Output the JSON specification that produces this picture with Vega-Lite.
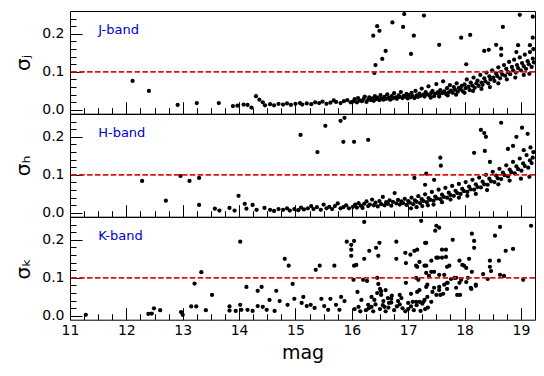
{
  "$schema": "https://vega.github.io/schema/vega-lite/v6.json",
  "padding": {"left": 13, "top": 10, "right": 9, "bottom": 5},
  "background": "white",
  "spacing": 0,
  "bounds": "flush",
  "config": {
    "font": "DejaVu Sans",
    "view": {"stroke": "black", "strokeWidth": 1},
    "axis": {"grid": false, "domain": false, "zindex": 1, "ticks": true, "tickColor": "black", "tickWidth": 1, "tickOpacity": 1, "labelColor": "black", "labelFontSize": 14, "labelFont": "DejaVu Sans", "titleFont": "DejaVu Sans", "titleFontWeight": "normal", "titleColor": "black", "labelOverlap": false, "labelFlush": false},
    "axisX": {"titleFontSize": 19},
    "axisY": {"titleFontSize": 20}
  },
  "datasets": {
    "J": [
      {"m":12.11,"s":0.076},{"m":12.40,"s":0.050},{"m":12.91,"s":0.013},{"m":13.25,"s":0.018},{"m":13.64,"s":0.018},{"m":13.89,"s":0.010},{"m":13.97,"s":0.011},{"m":14.08,"s":0.014},{"m":14.15,"s":0.013},{"m":14.22,"s":0.006},{"m":14.30,"s":0.036},{"m":14.36,"s":0.027},{"m":14.42,"s":0.020},{"m":14.46,"s":0.012},{"m":14.55,"s":0.015},{"m":14.62,"s":0.012},{"m":14.70,"s":0.016},{"m":14.78,"s":0.014},{"m":14.85,"s":0.017},{"m":14.92,"s":0.013},{"m":15.00,"s":0.016},{"m":15.08,"s":0.018},{"m":15.12,"s":0.014},{"m":15.20,"s":0.017},{"m":15.28,"s":0.015},{"m":15.35,"s":0.020},{"m":15.42,"s":0.018},{"m":15.48,"s":0.022},{"m":15.55,"s":0.016},{"m":15.62,"s":0.019},{"m":15.68,"s":0.025},{"m":15.72,"s":0.021},{"m":15.80,"s":0.018},{"m":15.86,"s":0.023},{"m":15.92,"s":0.026},{"m":15.98,"s":0.020},
      {"m":16.02,"s":0.022},{"m":16.05,"s":0.028},{"m":16.09,"s":0.020},{"m":16.11,"s":0.031},{"m":16.14,"s":0.025},{"m":16.18,"s":0.023},{"m":16.21,"s":0.029},{"m":16.23,"s":0.035},{"m":16.26,"s":0.021},{"m":16.29,"s":0.027},{"m":16.31,"s":0.033},{"m":16.34,"s":0.026},{"m":16.37,"s":0.030},{"m":16.39,"s":0.024},{"m":16.41,"s":0.036},{"m":16.44,"s":0.028},{"m":16.46,"s":0.032},{"m":16.49,"s":0.026},{"m":16.51,"s":0.039},{"m":16.53,"s":0.030},{"m":16.56,"s":0.027},{"m":16.58,"s":0.034},{"m":16.61,"s":0.029},{"m":16.63,"s":0.041},{"m":16.66,"s":0.032},{"m":16.68,"s":0.027},{"m":16.71,"s":0.036},{"m":16.73,"s":0.030},{"m":16.75,"s":0.044},{"m":16.78,"s":0.033},{"m":16.80,"s":0.029},{"m":16.83,"s":0.038},{"m":16.85,"s":0.034},{"m":16.87,"s":0.047},{"m":16.90,"s":0.031},{"m":16.92,"s":0.037},{"m":16.94,"s":0.035},{"m":16.97,"s":0.042},{"m":16.99,"s":0.030},{"m":17.01,"s":0.039},{"m":17.04,"s":0.033},{"m":17.06,"s":0.045},{"m":17.08,"s":0.036},{"m":17.11,"s":0.031},{"m":17.13,"s":0.050},{"m":17.15,"s":0.038},{"m":17.17,"s":0.034},{"m":17.20,"s":0.043},{"m":17.22,"s":0.037},{"m":17.24,"s":0.056},{"m":17.27,"s":0.040},{"m":17.29,"s":0.035},{"m":17.31,"s":0.047},{"m":17.34,"s":0.041},{"m":17.36,"s":0.062},{"m":17.38,"s":0.038},{"m":17.41,"s":0.045},{"m":17.43,"s":0.050},{"m":17.46,"s":0.036},{"m":17.48,"s":0.043},{"m":17.50,"s":0.068},{"m":17.53,"s":0.047},{"m":17.55,"s":0.040},{"m":17.57,"s":0.052},{"m":17.60,"s":0.044},{"m":17.62,"s":0.075},{"m":17.64,"s":0.049},{"m":17.67,"s":0.042},{"m":17.69,"s":0.057},{"m":17.72,"s":0.046},{"m":17.74,"s":0.065},{"m":17.76,"s":0.051},{"m":17.79,"s":0.045},{"m":17.81,"s":0.060},{"m":17.83,"s":0.053},{"m":17.86,"s":0.070},{"m":17.88,"s":0.048},{"m":17.90,"s":0.058},{"m":17.93,"s":0.054},{"m":17.95,"s":0.063},{"m":17.97,"s":0.049},{"m":18.00,"s":0.067},{"m":18.02,"s":0.057},{"m":18.04,"s":0.080},{"m":18.07,"s":0.061},{"m":18.09,"s":0.052},{"m":18.11,"s":0.072},{"m":18.14,"s":0.064},{"m":18.16,"s":0.085},{"m":18.18,"s":0.058},{"m":18.21,"s":0.070},{"m":18.23,"s":0.077},{"m":18.25,"s":0.063},{"m":18.28,"s":0.092},{"m":18.30,"s":0.072},{"m":18.32,"s":0.066},{"m":18.35,"s":0.083},{"m":18.37,"s":0.075},{"m":18.39,"s":0.098},{"m":18.42,"s":0.070},{"m":18.44,"s":0.088},{"m":18.46,"s":0.080},{"m":18.49,"s":0.104},{"m":18.51,"s":0.085},{"m":18.53,"s":0.076},{"m":18.56,"s":0.096},{"m":18.58,"s":0.089},{"m":18.60,"s":0.112},{"m":18.63,"s":0.083},{"m":18.65,"s":0.100},{"m":18.67,"s":0.093},{"m":18.70,"s":0.118},{"m":18.72,"s":0.090},{"m":18.74,"s":0.108},{"m":18.77,"s":0.099},{"m":18.79,"s":0.126},{"m":18.81,"s":0.094},{"m":18.84,"s":0.113},{"m":18.86,"s":0.104},{"m":18.88,"s":0.132},{"m":18.91,"s":0.098},{"m":18.93,"s":0.118},{"m":18.95,"s":0.110},{"m":18.98,"s":0.138},{"m":19.00,"s":0.104},{"m":19.02,"s":0.123},{"m":19.05,"s":0.115},{"m":19.07,"s":0.145},{"m":19.09,"s":0.108},{"m":19.12,"s":0.128},{"m":19.14,"s":0.120},{"m":19.16,"s":0.152},{"m":19.19,"s":0.113},{"m":19.21,"s":0.135},{"m":19.23,"s":0.125},{"m":19.22,"s":0.160},
      {"m":17.40,"s":0.032},{"m":17.55,"s":0.035},{"m":17.70,"s":0.038},{"m":17.85,"s":0.040},{"m":18.00,"s":0.045},{"m":18.15,"s":0.050},{"m":18.30,"s":0.055},{"m":18.45,"s":0.060},{"m":18.60,"s":0.070},{"m":18.75,"s":0.080},{"m":18.90,"s":0.085},{"m":19.05,"s":0.092},{"m":19.15,"s":0.095},
      {"m":16.38,"s":0.195},{"m":16.45,"s":0.220},{"m":16.49,"s":0.208},{"m":16.72,"s":0.230},{"m":16.91,"s":0.218},{"m":16.93,"s":0.252},{"m":17.28,"s":0.248},{"m":17.10,"s":0.195},{"m":16.60,"s":0.155},{"m":16.54,"s":0.134},{"m":16.42,"s":0.118},{"m":16.40,"s":0.097},{"m":17.05,"s":0.147},{"m":17.55,"s":0.171},{"m":17.94,"s":0.190},{"m":18.10,"s":0.197},{"m":18.03,"s":0.120},{"m":18.35,"s":0.155},{"m":18.43,"s":0.158},{"m":18.68,"s":0.218},{"m":18.56,"s":0.171},{"m":18.65,"s":0.161},{"m":18.65,"s":0.144},{"m":18.98,"s":0.250},{"m":18.95,"s":0.170},{"m":18.92,"s":0.152},{"m":19.16,"s":0.170},{"m":19.21,"s":0.190},{"m":19.21,"s":0.245}
    ],
    "H": [
      {"m":12.28,"s":0.084},{"m":12.70,"s":0.032},{"m":12.96,"s":0.097},{"m":13.12,"s":0.084},{"m":13.29,"s":0.092},{"m":13.29,"s":0.021},{"m":13.57,"s":0.011},{"m":13.65,"s":0.006},{"m":13.83,"s":0.013},{"m":13.92,"s":0.006},{"m":13.99,"s":0.045},{"m":14.10,"s":0.024},{"m":14.13,"s":0.011},{"m":14.24,"s":0.021},{"m":14.31,"s":0.008},{"m":14.45,"s":0.013},{"m":14.55,"s":0.008},{"m":14.62,"s":0.005},{"m":14.70,"s":0.010},{"m":14.78,"s":0.008},{"m":14.85,"s":0.012},{"m":14.90,"s":0.006},{"m":14.98,"s":0.010},{"m":15.05,"s":0.007},{"m":15.10,"s":0.014},{"m":15.15,"s":0.009},{"m":15.22,"s":0.012},{"m":15.28,"s":0.018},{"m":15.32,"s":0.010},{"m":15.38,"s":0.015},{"m":15.45,"s":0.008},{"m":15.50,"s":0.022},{"m":15.55,"s":0.012},{"m":15.60,"s":0.016},{"m":15.65,"s":0.010},{"m":15.70,"s":0.018},{"m":15.75,"s":0.025},{"m":15.80,"s":0.012},{"m":15.85,"s":0.015},{"m":15.90,"s":0.020},{"m":15.95,"s":0.012},
      {"m":16.02,"s":0.016},{"m":16.06,"s":0.022},{"m":16.09,"s":0.014},{"m":16.12,"s":0.026},{"m":16.16,"s":0.019},{"m":16.19,"s":0.013},{"m":16.22,"s":0.024},{"m":16.26,"s":0.030},{"m":16.29,"s":0.018},{"m":16.32,"s":0.022},{"m":16.36,"s":0.035},{"m":16.39,"s":0.020},{"m":16.42,"s":0.027},{"m":16.46,"s":0.017},{"m":16.49,"s":0.031},{"m":16.52,"s":0.023},{"m":16.55,"s":0.042},{"m":16.58,"s":0.020},{"m":16.61,"s":0.028},{"m":16.64,"s":0.024},{"m":16.67,"s":0.033},{"m":16.70,"s":0.019},{"m":16.73,"s":0.029},{"m":16.76,"s":0.052},{"m":16.79,"s":0.025},{"m":16.82,"s":0.034},{"m":16.85,"s":0.022},{"m":16.88,"s":0.030},{"m":16.91,"s":0.026},{"m":16.94,"s":0.037},{"m":16.97,"s":0.021},{"m":17.00,"s":0.031},{"m":17.03,"s":0.027},{"m":17.06,"s":0.040},{"m":17.09,"s":0.023},{"m":17.12,"s":0.033},{"m":17.15,"s":0.029},{"m":17.18,"s":0.044},{"m":17.21,"s":0.026},{"m":17.24,"s":0.036},{"m":17.27,"s":0.031},{"m":17.30,"s":0.049},{"m":17.33,"s":0.028},{"m":17.36,"s":0.039},{"m":17.39,"s":0.034},{"m":17.42,"s":0.055},{"m":17.45,"s":0.032},{"m":17.48,"s":0.043},{"m":17.51,"s":0.038},{"m":17.54,"s":0.061},{"m":17.57,"s":0.036},{"m":17.60,"s":0.048},{"m":17.63,"s":0.042},{"m":17.66,"s":0.066},{"m":17.69,"s":0.040},{"m":17.72,"s":0.053},{"m":17.75,"s":0.047},{"m":17.78,"s":0.071},{"m":17.81,"s":0.045},{"m":17.84,"s":0.058},{"m":17.87,"s":0.052},{"m":17.90,"s":0.076},{"m":17.93,"s":0.050},{"m":17.96,"s":0.063},{"m":17.99,"s":0.057},{"m":18.02,"s":0.081},{"m":18.05,"s":0.055},{"m":18.08,"s":0.069},{"m":18.11,"s":0.062},{"m":18.14,"s":0.087},{"m":18.17,"s":0.061},{"m":18.20,"s":0.075},{"m":18.23,"s":0.068},{"m":18.26,"s":0.093},{"m":18.29,"s":0.067},{"m":18.32,"s":0.082},{"m":18.35,"s":0.075},{"m":18.38,"s":0.100},{"m":18.41,"s":0.074},{"m":18.44,"s":0.090},{"m":18.47,"s":0.083},{"m":18.50,"s":0.108},{"m":18.53,"s":0.081},{"m":18.56,"s":0.098},{"m":18.59,"s":0.091},{"m":18.62,"s":0.116},{"m":18.65,"s":0.089},{"m":18.68,"s":0.106},{"m":18.71,"s":0.099},{"m":18.74,"s":0.125},{"m":18.77,"s":0.096},{"m":18.80,"s":0.114},{"m":18.83,"s":0.107},{"m":18.86,"s":0.134},{"m":18.89,"s":0.104},{"m":18.92,"s":0.122},{"m":18.95,"s":0.115},{"m":18.98,"s":0.143},{"m":19.01,"s":0.111},{"m":19.04,"s":0.130},{"m":19.07,"s":0.123},{"m":19.10,"s":0.152},{"m":19.13,"s":0.119},{"m":19.16,"s":0.138},{"m":19.19,"s":0.131},{"m":19.22,"s":0.160},{"m":19.21,"s":0.145},{"m":19.17,"s":0.172},{"m":19.05,"s":0.165},
      {"m":15.09,"s":0.205},{"m":15.39,"s":0.160},{"m":15.53,"s":0.229},{"m":15.80,"s":0.242},{"m":15.87,"s":0.250},{"m":15.85,"s":0.187},{"m":16.04,"s":0.187},{"m":16.29,"s":0.192},{"m":17.57,"s":0.145},{"m":17.58,"s":0.124},{"m":17.11,"s":0.092},{"m":17.32,"s":0.103},{"m":17.46,"s":0.087},{"m":17.30,"s":0.074},{"m":18.17,"s":0.158},{"m":18.29,"s":0.218},{"m":18.35,"s":0.210},{"m":18.38,"s":0.200},{"m":18.36,"s":0.163},{"m":18.45,"s":0.134},{"m":18.65,"s":0.237},{"m":19.02,"s":0.224},{"m":18.92,"s":0.200},{"m":19.12,"s":0.208},{"m":18.77,"s":0.168},{"m":18.86,"s":0.176},
      {"m":17.05,"s":0.012},{"m":17.15,"s":0.015},{"m":17.25,"s":0.018},{"m":17.35,"s":0.020},{"m":17.45,"s":0.022},{"m":17.60,"s":0.028},{"m":17.75,"s":0.035},{"m":17.90,"s":0.040},{"m":18.05,"s":0.045},{"m":18.20,"s":0.050},{"m":18.40,"s":0.060},{"m":18.60,"s":0.075},{"m":18.80,"s":0.085},{"m":19.00,"s":0.090},{"m":19.15,"s":0.095}
    ],
    "K": [
      {"m":11.28,"s":0.003},{"m":12.39,"s":0.005},{"m":12.45,"s":0.006},{"m":12.49,"s":0.020},{"m":12.60,"s":0.015},{"m":12.97,"s":0.010},{"m":13.00,"s":0.003},{"m":13.15,"s":0.025},{"m":13.24,"s":0.025},{"m":13.21,"s":0.085},{"m":13.33,"s":0.115},{"m":13.41,"s":0.015},{"m":13.52,"s":0.055},{"m":13.83,"s":0.025},{"m":13.83,"s":0.014},{"m":13.94,"s":0.013},{"m":14.02,"s":0.029},{"m":14.02,"s":0.195},{"m":14.04,"s":0.016},{"m":14.13,"s":0.076},{"m":14.15,"s":0.016},{"m":14.24,"s":0.013},{"m":14.33,"s":0.066},{"m":14.40,"s":0.076},{"m":14.33,"s":0.026},{"m":14.42,"s":0.024},{"m":14.49,"s":0.016},{"m":14.54,"s":0.042},
      {"m":14.66,"s":0.066},{"m":14.81,"s":0.150},{"m":14.88,"s":0.132},{"m":14.95,"s":0.084},{"m":14.86,"s":0.029},{"m":14.98,"s":0.045},{"m":14.72,"s":0.039},{"m":14.63,"s":0.013},{"m":15.11,"s":0.034},{"m":15.14,"s":0.050},{"m":15.20,"s":0.026},{"m":15.27,"s":0.029},{"m":15.34,"s":0.021},{"m":15.36,"s":0.121},{"m":15.43,"s":0.132},{"m":15.46,"s":0.045},{"m":15.51,"s":0.026},{"m":15.58,"s":0.016},{"m":15.62,"s":0.045},{"m":15.69,"s":0.132},{"m":15.72,"s":0.029},{"m":15.78,"s":0.016},{"m":15.81,"s":0.050},{"m":15.87,"s":0.039},{"m":15.91,"s":0.195},{"m":15.99,"s":0.187},{"m":16.04,"s":0.197},{"m":15.99,"s":0.174},{"m":15.99,"s":0.158},{"m":16.03,"s":0.095},{"m":16.04,"s":0.132},{"m":16.08,"s":0.134},{"m":16.10,"s":0.063},{"m":16.12,"s":0.024},{"m":16.17,"s":0.042},{"m":16.22,"s":0.247},{"m":16.22,"s":0.150},{"m":16.20,"s":0.095},{"m":16.27,"s":0.092},{"m":16.31,"s":0.171},{"m":16.29,"s":0.029},{"m":16.35,"s":0.024},{"m":16.40,"s":0.042},{"m":16.43,"s":0.179},{"m":16.47,"s":0.158},{"m":16.45,"s":0.100},{"m":16.49,"s":0.192},{"m":16.47,"s":0.084},{"m":16.50,"s":0.071},{"m":16.52,"s":0.055},{"m":16.56,"s":0.039},{"m":16.58,"s":0.024},{"m":16.64,"s":0.047},{"m":16.66,"s":0.034},{"m":16.71,"s":0.053},{"m":16.79,"s":0.195},{"m":16.79,"s":0.150},{"m":16.82,"s":0.039},{"m":16.88,"s":0.047},{"m":16.95,"s":0.166},{"m":16.96,"s":0.139},{"m":16.96,"s":0.087},{"m":17.00,"s":0.034},{"m":17.04,"s":0.161},{"m":17.05,"s":0.058},{"m":17.08,"s":0.037},{"m":17.11,"s":0.171},{"m":17.14,"s":0.132},{"m":17.16,"s":0.174},{"m":17.18,"s":0.095},{"m":17.20,"s":0.068},{"m":17.23,"s":0.250},{"m":17.27,"s":0.037},{"m":17.29,"s":0.132},{"m":17.30,"s":0.192},{"m":17.32,"s":0.113},{"m":17.34,"s":0.082},{"m":17.37,"s":0.105},{"m":17.41,"s":0.145},{"m":17.46,"s":0.074},{"m":17.48,"s":0.224},{"m":17.50,"s":0.237},{"m":17.53,"s":0.153},{"m":17.55,"s":0.232},{"m":17.57,"s":0.055},{"m":17.60,"s":0.174},{"m":17.64,"s":0.108},{"m":17.67,"s":0.174},{"m":17.67,"s":0.155},{"m":17.70,"s":0.087},{"m":17.73,"s":0.132},{"m":17.79,"s":0.200},{"m":17.82,"s":0.100},{"m":17.85,"s":0.074},{"m":17.91,"s":0.145},{"m":17.92,"s":0.055},{"m":17.94,"s":0.095},{"m":17.99,"s":0.132},{"m":18.03,"s":0.126},{"m":18.06,"s":0.100},{"m":18.08,"s":0.150},{"m":18.11,"s":0.074},{"m":18.13,"s":0.216},{"m":18.17,"s":0.197},{"m":18.17,"s":0.179},{"m":18.20,"s":0.082},{"m":18.33,"s":0.110},{"m":18.41,"s":0.097},{"m":18.45,"s":0.145},{"m":18.45,"s":0.129},{"m":18.47,"s":0.118},{"m":18.54,"s":0.211},{"m":18.61,"s":0.145},{"m":18.63,"s":0.234},{"m":18.63,"s":0.108},{"m":18.70,"s":0.105},{"m":18.73,"s":0.171},{"m":18.86,"s":0.176},{"m":19.04,"s":0.095},{"m":19.18,"s":0.237},
      {"m":17.32,"s":0.192},{"m":18.13,"s":0.116},{"m":18.20,"s":0.079},{"m":18.12,"s":0.071},{"m":17.96,"s":0.134},{"m":18.03,"s":0.089},{"m":17.91,"s":0.087},{"m":17.87,"s":0.055},{"m":17.69,"s":0.087},{"m":17.76,"s":0.097},{"m":17.64,"s":0.082},{"m":17.60,"s":0.153},{"m":17.50,"s":0.153},{"m":17.46,"s":0.116},{"m":17.55,"s":0.108},{"m":17.69,"s":0.129},{"m":17.62,"s":0.058},{"m":17.50,"s":0.055},{"m":17.43,"s":0.063},{"m":17.41,"s":0.037},{"m":17.34,"s":0.050},{"m":17.29,"s":0.042},{"m":17.25,"s":0.032},{"m":17.20,"s":0.037},{"m":17.16,"s":0.063},{"m":17.14,"s":0.037},{"m":17.32,"s":0.076},{"m":17.55,"s":0.076},{"m":17.55,"s":0.068},{"m":17.69,"s":0.071},{"m":17.85,"s":0.100},{"m":17.16,"s":0.129},{"m":17.20,"s":0.142},{"m":17.14,"s":0.100},{"m":17.32,"s":0.132},{"m":17.41,"s":0.116},
      {"m":16.05,"s":0.018},{"m":16.15,"s":0.012},{"m":16.25,"s":0.015},{"m":16.30,"s":0.020},{"m":16.38,"s":0.012},{"m":16.42,"s":0.030},{"m":16.50,"s":0.018},{"m":16.55,"s":0.028},{"m":16.60,"s":0.012},{"m":16.65,"s":0.022},{"m":16.70,"s":0.035},{"m":16.75,"s":0.015},{"m":16.80,"s":0.025},{"m":16.85,"s":0.030},{"m":16.90,"s":0.020},{"m":16.95,"s":0.012},{"m":17.00,"s":0.018},{"m":17.05,"s":0.025},{"m":17.10,"s":0.015},{"m":17.15,"s":0.028},{"m":17.22,"s":0.013},{"m":17.30,"s":0.018},{"m":17.35,"s":0.022},{"m":16.45,"s":0.060},{"m":16.52,"s":0.065},{"m":16.35,"s":0.050},{"m":16.60,"s":0.068},{"m":16.70,"s":0.045},{"m":16.85,"s":0.055}
    ]
  },
  "vconcat": [
    {
      "width": 465, "height": 102.7,
      "resolve": {"axis": {"x": "independent", "y": "independent"}},
      "layer": [
        {"data": {"name": "J"}, "mark": {"type": "circle", "size": 18, "color": "black", "opacity": 1, "clip": true},
         "encoding": {
           "x": {"field": "m", "type": "quantitative", "scale": {"domain": [11, 19.25], "nice": false, "zero": false}, "axis": {"orient": "bottom", "values": [11,12,13,14,15,16,17,18,19], "offset": -12, "tickSize": 12, "labels": false, "title": null, "minExtent": 0, "maxExtent": 0}},
           "y": {"field": "s", "type": "quantitative", "scale": {"domain": [-0.01, 0.26], "nice": false, "zero": false}, "axis": {"orient": "left", "values": [0, 0.1, 0.2], "format": ".1f", "offset": -12, "tickSize": 12, "labelPadding": 6, "title": "σⱼ", "titlePadding": 8}}
         }},
        {"data": {"values": [{"lim": 0.1}]}, "mark": {"type": "rule", "color": "#e01010", "strokeWidth": 1.6, "strokeDash": [5.5, 2.4]},
         "encoding": {"y": {"field": "lim", "type": "quantitative", "axis": null}}},
        {"data": {"values": [{"band": "J-band", "bm": 11.5, "bs": 0.2}]}, "mark": {"type": "text", "color": "#0000cd", "fontSize": 13, "align": "left", "baseline": "alphabetic", "font": "DejaVu Sans"},
         "encoding": {
           "x": {"field": "bm", "type": "quantitative", "axis": {"orient": "bottom", "values": [11.25,11.5,11.75,12.25,12.5,12.75,13.25,13.5,13.75,14.25,14.5,14.75,15.25,15.5,15.75,16.25,16.5,16.75,17.25,17.5,17.75,18.25,18.5,18.75,19.25], "offset": -6, "tickSize": 6, "labels": false, "title": null, "minExtent": 0, "maxExtent": 0}},
           "y": {"field": "bs", "type": "quantitative", "axis": {"orient": "left", "values": [0.02,0.04,0.06,0.08,0.12,0.14,0.16,0.18,0.22,0.24], "offset": -6, "tickSize": 6, "labels": false, "title": null}},
           "text": {"field": "band"}}}
      ]
    },
    {
      "width": 465, "height": 102.7,
      "resolve": {"axis": {"x": "independent", "y": "independent"}},
      "layer": [
        {"data": {"name": "H"}, "mark": {"type": "circle", "size": 18, "color": "black", "opacity": 1, "clip": true},
         "encoding": {
           "x": {"field": "m", "type": "quantitative", "scale": {"domain": [11, 19.25], "nice": false, "zero": false}, "axis": {"orient": "bottom", "values": [11,12,13,14,15,16,17,18,19], "offset": -12, "tickSize": 12, "labels": false, "title": null, "minExtent": 0, "maxExtent": 0}},
           "y": {"field": "s", "type": "quantitative", "scale": {"domain": [-0.01, 0.26], "nice": false, "zero": false}, "axis": {"orient": "left", "values": [0, 0.1, 0.2], "format": ".1f", "offset": -12, "tickSize": 12, "labelPadding": 6, "title": "σₕ", "titlePadding": 8}}
         }},
        {"data": {"values": [{"lim": 0.1}]}, "mark": {"type": "rule", "color": "#e01010", "strokeWidth": 1.6, "strokeDash": [5.5, 2.4]},
         "encoding": {"y": {"field": "lim", "type": "quantitative", "axis": null}}},
        {"data": {"values": [{"band": "H-band", "bm": 11.5, "bs": 0.2}]}, "mark": {"type": "text", "color": "#0000cd", "fontSize": 13, "align": "left", "baseline": "alphabetic", "font": "DejaVu Sans"},
         "encoding": {
           "x": {"field": "bm", "type": "quantitative", "axis": {"orient": "bottom", "values": [11.25,11.5,11.75,12.25,12.5,12.75,13.25,13.5,13.75,14.25,14.5,14.75,15.25,15.5,15.75,16.25,16.5,16.75,17.25,17.5,17.75,18.25,18.5,18.75,19.25], "offset": -6, "tickSize": 6, "labels": false, "title": null, "minExtent": 0, "maxExtent": 0}},
           "y": {"field": "bs", "type": "quantitative", "axis": {"orient": "left", "values": [0.02,0.04,0.06,0.08,0.12,0.14,0.16,0.18,0.22,0.24], "offset": -6, "tickSize": 6, "labels": false, "title": null}},
           "text": {"field": "band"}}}
      ]
    },
    {
      "width": 465, "height": 102.7,
      "resolve": {"axis": {"x": "independent", "y": "independent"}},
      "layer": [
        {"data": {"name": "K"}, "mark": {"type": "circle", "size": 18, "color": "black", "opacity": 1, "clip": true},
         "encoding": {
           "x": {"field": "m", "type": "quantitative", "scale": {"domain": [11, 19.25], "nice": false, "zero": false}, "axis": {"orient": "bottom", "values": [11,12,13,14,15,16,17,18,19], "format": "d", "offset": -12, "tickSize": 12, "labelPadding": 4, "title": "mag", "titlePadding": 6}},
           "y": {"field": "s", "type": "quantitative", "scale": {"domain": [-0.01, 0.26], "nice": false, "zero": false}, "axis": {"orient": "left", "values": [0, 0.1, 0.2], "format": ".1f", "offset": -12, "tickSize": 12, "labelPadding": 6, "title": "σₖ", "titlePadding": 8}}
         }},
        {"data": {"values": [{"lim": 0.1}]}, "mark": {"type": "rule", "color": "#e01010", "strokeWidth": 1.6, "strokeDash": [5.5, 2.4]},
         "encoding": {"y": {"field": "lim", "type": "quantitative", "axis": null}}},
        {"data": {"values": [{"band": "K-band", "bm": 11.5, "bs": 0.2}]}, "mark": {"type": "text", "color": "#0000cd", "fontSize": 13, "align": "left", "baseline": "alphabetic", "font": "DejaVu Sans"},
         "encoding": {
           "x": {"field": "bm", "type": "quantitative", "axis": {"orient": "bottom", "values": [11.25,11.5,11.75,12.25,12.5,12.75,13.25,13.5,13.75,14.25,14.5,14.75,15.25,15.5,15.75,16.25,16.5,16.75,17.25,17.5,17.75,18.25,18.5,18.75,19.25], "offset": -6, "tickSize": 6, "labels": false, "title": null}},
           "y": {"field": "bs", "type": "quantitative", "axis": {"orient": "left", "values": [0.02,0.04,0.06,0.08,0.12,0.14,0.16,0.18,0.22,0.24], "offset": -6, "tickSize": 6, "labels": false, "title": null}},
           "text": {"field": "band"}}}
      ]
    }
  ]
}
